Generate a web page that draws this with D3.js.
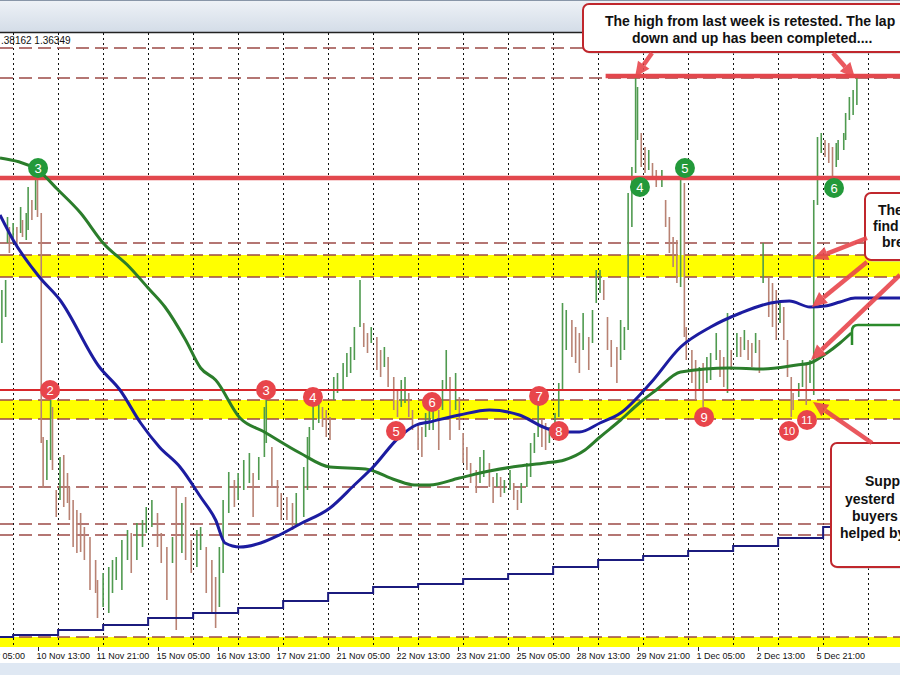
<!DOCTYPE html>
<html><head><meta charset="utf-8">
<script src="https://cdn.jsdelivr.net/npm/d3@7"></script>
<style>html,body{margin:0;padding:0;background:#fff;overflow:hidden}</style>
</head><body><svg id="c" width="900" height="675"></svg>
<script>
// ---------- DATA (hourly index from the left edge; prices) ----------
const barHour = [1,3,4,5,7,9,11,12,14,15,17,19,20,22,
23,25,27,28,30,32,34,36,37,39,41,43,45,48,51,52,55,58,60,62,65,68,70,73,76,78,81,84,86,89,92,94,97,99,102,105,107,110,113,115,117,119,122,125,127,130,133,135,138,141,142,145,148,150,153,156,158,
162,164,165,167,170,172,174,176,178,180,183,185,187,189,192,194,196,198,201,203,205,207,210,212,214,216,218,220,223,225,227,229,231,234,236,238,240,243,245,247,249,251,254,256,258,261,263,265,267,269,272,274,276,278,281,283,285,287,289,291,293,296,298,300,302,305,307,309,311,314,316,318,
320,322,324,326,329,331,333,335,337,339,340,342,344,346,348,350,353,355,357,359,361,363,365,366,369,371,373,375,377,379,382,384,386,388,390,393,395,397,399,401,403,405,407,410,412,414,416,418,420,422,423,426,428,430,432,434,436,438,440,442,444,446,447,450,451,453,455,457];
const barHigh = [1.3550,1.3560,1.3623,1.3613,1.3617,1.3613,1.3633,1.3620,1.3627,1.3653,1.3640,1.3660,1.3662,1.3627,
1.3403,1.3400,1.3440,1.3433,1.3350,1.3383,1.3385,1.3367,1.3353,1.3340,1.3330,1.3327,1.3313,1.3303,1.3280,1.3260,1.3267,1.3273,1.3280,1.3283,1.3300,1.3310,1.3307,1.3317,1.3320,1.3333,1.3340,1.3327,1.3307,1.3293,1.3303,1.3353,1.3337,1.3343,1.3300,1.3310,1.3313,1.3293,1.3280,1.3263,1.3293,1.3340,1.3368,1.3360,1.3367,1.3380,1.3387,1.3367,1.3383,1.3433,1.3440,1.3393,1.3360,1.3347,1.3343,1.3337,1.3347,
1.3373,1.3403,1.3413,1.3443,1.3440,1.3433,1.3430,1.3423,1.3463,1.3467,1.3477,1.3487,1.3493,1.3513,1.3560,1.3517,1.3507,1.3513,1.3503,1.3490,1.3493,1.3483,1.3463,1.3450,1.3460,1.3463,1.3447,1.3430,1.3417,1.3413,1.3427,1.3433,1.3440,1.3430,1.3460,1.3490,1.3463,1.3467,1.3443,1.3407,1.3393,1.3377,1.3370,1.3383,1.3390,1.3377,1.3363,1.3367,1.3363,1.3360,1.3370,1.3357,1.3350,1.3357,1.3377,1.3397,1.3407,1.3437,1.3420,1.3417,1.3413,1.3427,1.3457,1.3537,1.3530,1.3520,1.3513,1.3507,1.3527,1.3503,1.3530,1.3570,
1.3570,1.3560,1.3523,1.3500,1.3493,1.3520,1.3513,1.3647,1.3673,1.3763,1.3753,1.3707,1.3693,1.3690,1.3677,1.3670,1.3670,1.3640,1.3623,1.3603,1.3600,1.3660,1.3657,1.3513,1.3490,1.3480,1.3473,1.3477,1.3483,1.3487,1.3507,1.3490,1.3483,1.3527,1.3490,1.3507,1.3503,1.3510,1.3500,1.3497,1.3507,1.3500,1.3597,1.3563,1.3557,1.3550,1.3540,1.3533,1.3500,1.3463,1.3447,1.3457,1.3480,1.3477,1.3480,1.3640,1.3703,1.3707,1.3700,1.3697,1.3693,1.3697,1.3700,1.3707,1.3727,1.3743,1.3750,1.3763];
const barLow = [1.3497,1.3523,1.3597,1.3587,1.3597,1.3593,1.3607,1.3603,1.3600,1.3610,1.3620,1.3630,1.3623,1.3397,
1.3352,1.3360,1.3380,1.3370,1.3323,1.3340,1.3333,1.3337,1.3320,1.3293,1.3287,1.3288,1.3280,1.3250,1.3247,1.3222,1.3233,1.3227,1.3247,1.3260,1.3250,1.3280,1.3267,1.3280,1.3293,1.3307,1.3313,1.3293,1.3277,1.3240,1.3277,1.3210,1.3287,1.3280,1.3267,1.3273,1.3290,1.3247,1.3227,1.3212,1.3233,1.3267,1.3327,1.3333,1.3340,1.3350,1.3357,1.3323,1.3360,1.3383,1.3397,1.3353,1.3333,1.3320,1.3320,1.3310,1.3313,
1.3323,1.3350,1.3383,1.3410,1.3417,1.3413,1.3403,1.3400,1.3440,1.3447,1.3450,1.3463,1.3467,1.3480,1.3513,1.3493,1.3487,1.3497,1.3470,1.3463,1.3473,1.3453,1.3430,1.3423,1.3433,1.3437,1.3423,1.3410,1.3390,1.3383,1.3403,1.3410,1.3410,1.3390,1.3430,1.3450,1.3400,1.3430,1.3410,1.3377,1.3370,1.3357,1.3347,1.3357,1.3363,1.3353,1.3337,1.3353,1.3343,1.3347,1.3350,1.3340,1.3330,1.3337,1.3353,1.3363,1.3387,1.3403,1.3393,1.3390,1.3397,1.3403,1.3423,1.3450,1.3490,1.3483,1.3477,1.3467,1.3490,1.3470,1.3497,1.3537,
1.3547,1.3540,1.3490,1.3473,1.3457,1.3480,1.3490,1.3510,1.3613,1.3667,1.3700,1.3673,1.3667,1.3670,1.3660,1.3653,1.3653,1.3613,1.3587,1.3573,1.3557,1.3553,1.3503,1.3480,1.3457,1.3440,1.3450,1.3433,1.3457,1.3460,1.3480,1.3463,1.3453,1.3447,1.3470,1.3483,1.3483,1.3490,1.3480,1.3473,1.3487,1.3467,1.3557,1.3523,1.3513,1.3500,1.3517,1.3500,1.3463,1.3423,1.3430,1.3443,1.3453,1.3435,1.3457,1.3445,1.3635,1.3687,1.3683,1.3677,1.3663,1.3673,1.3680,1.3690,1.3700,1.3720,1.3725,1.3735];

const ma100Hour  = [0,7,21,32,53,64,75,85,96,107,115,120,128,139,149,160,176,189,199,213,222,229,245,261,277,291,299,309,320,331,347,363,379,395,411,421,432,440,448,456,480];
const ma100Value = [1.3625,1.3600,1.3563,1.3540,1.3473,1.3450,1.3417,1.3393,1.3373,1.3343,1.3320,1.3297,1.3293,1.3297,1.3305,1.3316,1.3332,1.3355,1.3373,1.3403,1.3415,1.3418,1.3425,1.3430,1.3425,1.3412,1.3408,1.3408,1.3417,1.3427,1.3457,1.3493,1.3513,1.3527,1.3537,1.3539,1.3533,1.3534,1.3538,1.3542,1.3542];
const ma200Hour  = [0,20,31,43,55,69,79,88,99,107,115,128,141,160,176,195,211,221,229,245,261,277,291,301,312,320,331,341,350,363,389,407,425,432,441,448,454];
const ma200Value = [1.3682,1.3670,1.3650,1.3627,1.3597,1.3573,1.3552,1.3533,1.3500,1.3472,1.3460,1.3422,1.3408,1.3387,1.3373,1.3371,1.3360,1.3355,1.3355,1.3362,1.3369,1.3374,1.3377,1.3380,1.3390,1.3403,1.3420,1.3437,1.3450,1.3468,1.3472,1.3471,1.3475,1.3477,1.3487,1.3497,1.3507];
// daily step line, one value per day (day -1 .. 18)
const dailyStepValue = [1.3203,1.3205,1.3210,1.3215,1.3222,1.3227,1.3232,1.3239,1.3247,1.3253,1.3256,1.3261,1.3266,1.3273,1.3280,1.3284,1.3289,1.3294,1.3302,1.3313];

const tickLabels = ["9 Nov 05:00","10 Nov 13:00","11 Nov 21:00","15 Nov 05:00","16 Nov 13:00","17 Nov 21:00","21 Nov 05:00","22 Nov 13:00","23 Nov 21:00","25 Nov 05:00","28 Nov 13:00","29 Nov 21:00","1 Dec 05:00","2 Dec 13:00","5 Dec 21:00"];
const tickHours  = [-12,20,52,84,116,148,180,212,244,276,308,340,372,404,436];
const dayStartHours = [7,31,55,79,103,127,151,175,199,223,247,271,295,319,343,367,391,415,439,463];

const dashedLevels = [1.3792,1.3762,1.3597,1.3585,1.3563,1.3440,1.3421,1.3353,1.3316,1.3305,1.3203];
const yellowBands  = [[1.3585,1.3563],[1.3440,1.3421],[1.3203,1.3192]];
const redThickLevel = 1.3662, redThinLevel = 1.3450, weekHighLevel = 1.3764, weekHighFromHour = 323;

const greenMarkers = [["3",20.3,1.3672],["4",341.3,1.3653],["5",365.3,1.3672],["6",444.8,1.3652]];
const redMarkers = [["2",26.7,1.3450],["3",141.9,1.3450],["4",166.9,1.3443],["5",211.2,1.3409],["6",230.4,1.3438],["7",287.5,1.3444],["8",298.1,1.3409],["9",375.5,1.3423],["10",420.8,1.3409],["11",430.4,1.3420]];

const topText = ".38162 1.36349";
const box1Lines = ["The high from last week is retested. The lap","down and up has been completed...."];
const box2Lines = ["The","find","bre"];
const box3Lines = ["Supp","yesterd","buyers","helped by"];
// arrow tips in data space [hour, price], tails in page pixels
const arrows = [
  [[338.7,1.3763],[652,53]],
  [[456,1.3762],[833,53]],
  [[433.6,1.3581],[867,238]],
  [[433,1.3533],[867,262]],
  [[432.5,1.3480],[900,275]],
  [[433.6,1.3438],[872,443]]
];

// ---------- DRAW ----------
const W=900,H=675, plotTop=33, plotBottom=647;
const svg=d3.select("#c");
const x=d3.scaleLinear().domain([0,480]).range([0,900]);
const y=d3.scaleLinear().domain([1.3200,1.3808]).range([640,32]);

const defs=svg.append("defs");
const grad=defs.append("linearGradient").attr("id","chrome").attr("x1",0).attr("x2",0).attr("y1",0).attr("y2",1);
grad.append("stop").attr("offset","0%").attr("stop-color","#eef2f7");
grad.append("stop").attr("offset","100%").attr("stop-color","#d3dce7");
defs.append("clipPath").attr("id","plot").append("rect").attr("x",0).attr("y",plotTop).attr("width",W).attr("height",plotBottom-plotTop);
svg.append("rect").attr("x",0).attr("y",0).attr("width",W).attr("height",plotTop).attr("fill","url(#chrome)");
svg.append("line").attr("x1",0).attr("x2",W).attr("y1",0.5).attr("y2",0.5).attr("stroke","#8896a8");
svg.append("line").attr("x1",0).attr("x2",W).attr("y1",plotTop-0.5).attr("y2",plotTop-0.5).attr("stroke","#222").attr("stroke-width",1.5);
svg.append("rect").attr("x",0).attr("y",663).attr("width",W).attr("height",12).attr("fill","#dfe8f3");

const plot=svg.append("g").attr("clip-path","url(#plot)");
plot.selectAll(".band").data(yellowBands).join("rect")
  .attr("x",0).attr("width",W).attr("y",d=>y(d[0])).attr("height",d=>y(d[1])-y(d[0])).attr("fill","#ffff00");
plot.selectAll(".vg").data(dayStartHours).join("line")
  .attr("x1",d=>Math.round(x(d))+0.5).attr("x2",d=>Math.round(x(d))+0.5).attr("y1",plotTop).attr("y2",plotBottom)
  .attr("stroke","#111").attr("stroke-width",1).attr("stroke-dasharray","2,3");
plot.selectAll(".dl").data(dashedLevels).join("line")
  .attr("x1",0).attr("x2",W).attr("y1",d=>y(d)).attr("y2",d=>y(d))
  .attr("stroke","#9c4a46").attr("stroke-width",1.3).attr("stroke-dasharray","13,6");

const mids=barHigh.map((h,i)=>(h+barLow[i])/2);
plot.selectAll(".bar").data(barHour).join("line")
  .attr("x1",d=>x(d)).attr("x2",d=>x(d))
  .attr("y1",(d,i)=>y(barHigh[i])).attr("y2",(d,i)=>y(barLow[i]))
  .attr("stroke",(d,i)=> (i===0||mids[i]>=mids[i-1]) ? "#4f9a4f" : "#b88273")
  .attr("stroke-width",1.6);

plot.append("line").attr("x1",0).attr("x2",W).attr("y1",y(redThickLevel)).attr("y2",y(redThickLevel))
  .attr("stroke","#e2474d").attr("stroke-width",4.5);
plot.append("line").attr("x1",0).attr("x2",W).attr("y1",y(redThinLevel)).attr("y2",y(redThinLevel))
  .attr("stroke","#d8282c").attr("stroke-width",1.8);
plot.append("line").attr("x1",x(weekHighFromHour)).attr("x2",W).attr("y1",y(weekHighLevel)).attr("y2",y(weekHighLevel))
  .attr("stroke","#e2474d").attr("stroke-width",4.5);

const stepPts=[];
dailyStepValue.forEach((v,i)=>{
  const h0 = i===0 ? 0 : dayStartHours[i-1];
  const h1 = i<dayStartHours.length ? dayStartHours[i] : 480;
  stepPts.push([h0,v],[h1,v]);
});
plot.append("path").attr("d",d3.line().x(d=>x(d[0])).y(d=>y(d[1]))(stepPts))
  .attr("fill","none").attr("stroke","#1b1b7e").attr("stroke-width",2);

const lineGen=d3.line().x(d=>x(d[0])).y(d=>y(d[1])).curve(d3.curveMonotoneX);
plot.append("path").attr("d",lineGen(ma200Hour.map((h,i)=>[h,ma200Value[i]])))
  .attr("fill","none").attr("stroke","#2b7d2b").attr("stroke-width",3);
plot.append("path").attr("d",lineGen(ma100Hour.map((h,i)=>[h,ma100Value[i]])))
  .attr("fill","none").attr("stroke","#1c1ca0").attr("stroke-width",3);

plot.append("path").attr("d","M852,345 L852,331 Q852,325 858,325 L910,325")
  .attr("fill","none").attr("stroke","#2b8a2b").attr("stroke-width",2.5);

const bf="Liberation Sans, Arial, sans-serif";
svg.append("text").attr("x",1).attr("y",44).text(topText)
  .attr("font-family",bf).attr("font-size",10).attr("fill","#111");

function markers(data,fill){
  const g=svg.append("g").selectAll("g").data(data).join("g").attr("transform",d=>`translate(${x(d[1])},${y(d[2])})`);
  g.append("circle").attr("r",10).attr("fill",fill);
  g.append("text").text(d=>d[0]).attr("text-anchor","middle").attr("dy","0.36em")
   .attr("font-family",bf).attr("font-size",d=>d[0].length>1?11:13).attr("fill","#fff");
}
markers(greenMarkers,"#23993a");
markers(redMarkers,"#e8454b");

function box(x0,y0,x1,y1){
  svg.append("rect").attr("x",x0+2).attr("y",y0+2).attr("width",x1-x0).attr("height",y1-y0).attr("rx",6).attr("fill","#c8c8c8").attr("opacity",0.5);
  svg.append("rect").attr("x",x0).attr("y",y0).attr("width",x1-x0).attr("height",y1-y0).attr("rx",6)
    .attr("fill","#fff").attr("stroke","#c0272d").attr("stroke-width",2);
}
box(583,4,930,52);
[[605,26],[632,43]].forEach((p,i)=>svg.append("text").attr("x",p[0]).attr("y",p[1]).text(box1Lines[i])
  .attr("font-family",bf).attr("font-weight","bold").attr("font-size",14).attr("fill","#111"));
box(865,193,930,260);
[[878,215],[873,231],[882,247]].forEach((p,i)=>svg.append("text").attr("x",p[0]).attr("y",p[1]).text(box2Lines[i])
  .attr("font-family",bf).attr("font-weight","bold").attr("font-size",14).attr("fill","#111"));
box(831,443,930,567);
[[865,486],[845,504],[852,521],[840,538]].forEach((p,i)=>svg.append("text").attr("x",p[0]).attr("y",p[1]).text(box3Lines[i])
  .attr("font-family",bf).attr("font-weight","bold").attr("font-size",14).attr("fill","#111"));

arrows.forEach(a=>{
  const tx=x(a[0][0]), ty=y(a[0][1]), sx=a[1][0], sy=a[1][1];
  const ang=Math.atan2(ty-sy,tx-sx), L=15, Wd=7;
  const bx=tx-L*Math.cos(ang), by=ty-L*Math.sin(ang);
  svg.append("line").attr("x1",sx).attr("y1",sy).attr("x2",bx).attr("y2",by)
    .attr("stroke","#e8474d").attr("stroke-width",4.5).attr("opacity",0.9);
  const px=-Math.sin(ang)*Wd, py=Math.cos(ang)*Wd;
  svg.append("path").attr("d",`M${tx},${ty} L${bx+px},${by+py} L${bx-px},${by-py} Z`).attr("fill","#e8474d").attr("opacity",0.9);
});

const ax=svg.append("g");
ax.selectAll("line").data(tickHours).join("line")
  .attr("x1",d=>Math.round(x(d))+0.5).attr("x2",d=>Math.round(x(d))+0.5).attr("y1",plotBottom).attr("y2",plotBottom+4).attr("stroke","#222");
ax.selectAll("text").data(tickLabels).join("text")
  .attr("x",(d,i)=>x(tickHours[i])-1).attr("y",659).text(d=>d)
  .attr("font-family",bf).attr("font-size",9).attr("fill","#111");
</script></body></html>
